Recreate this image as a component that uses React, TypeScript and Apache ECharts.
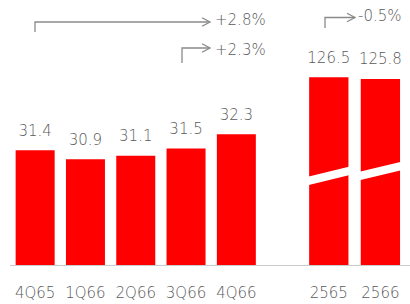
import React, { useEffect, useRef } from 'react';
import * as echarts from 'echarts';

const quarters = ['4Q65', '1Q66', '2Q66', '3Q66', '4Q66'];
const quarterValues = [31.4, 30.9, 31.1, 31.5, 32.3];
const years = ['2565', '2566'];
const yearValues = [126.5, 125.8];
const changeLabels = ['+2.8%', '+2.3%', '-0.5%'];

const FONT = 'DejaVu Sans';
const FW = 200;
const FS = 15;
const TEXT = '#5a5a5a';
const RED = '#ff0000';
const ARROW = '#8a8a8a';
// where the axis break band sits on each annual bar (value units)
const breakAt = [86.3, 88.3];

export default function App() {
  const ref = useRef<HTMLDivElement>(null);
  useEffect(() => {
    const chart = echarts.init(ref.current!, null, { renderer: 'svg' });
    const valueLabel = {
      show: true,
      position: 'top',
      distance: 12,
      color: TEXT,
      fontSize: FS,
      fontFamily: FONT,
      fontWeight: FW,
    };
    const catLabel = {
      color: TEXT,
      fontSize: FS,
      fontFamily: FONT,
      fontWeight: FW,
      margin: 20,
      interval: 0,
    };
    const arrow = (pts: number[][]) => ({
      type: 'polyline',
      shape: { points: pts },
      style: { stroke: ARROW, lineWidth: 1.3, fill: 'none' },
      silent: true,
    });
    const head = (x: number, y: number) =>
      arrow([
        [x - 8, y - 4.3],
        [x, y],
        [x - 8, y + 4.3],
      ]);
    const note = (x: number, y: number, t: string) => ({
      type: 'text',
      x,
      y,
      style: {
        text: t,
        fill: TEXT,
        fontSize: FS,
        fontFamily: FONT,
        fontWeight: FW,
        verticalAlign: 'middle',
        align: 'left',
      },
      silent: true,
    });
    chart.setOption({
      animation: false,
      grid: [
        { left: 10, width: 251.5, top: 50, height: 215 },
        { left: 303, width: 103.2, top: 44.1, height: 220.9 },
      ],
      xAxis: [
        {
          type: 'category',
          gridIndex: 0,
          data: quarters,
          axisLine: { show: false },
          axisTick: { show: false },
          axisLabel: catLabel,
        },
        {
          type: 'category',
          gridIndex: 1,
          data: years,
          axisLine: { show: false },
          axisTick: { show: false },
          axisLabel: catLabel,
        },
      ],
      yAxis: [
        { type: 'value', gridIndex: 0, min: 25, max: 37, show: false },
        { type: 'value', gridIndex: 1, min: 50, max: 140, show: false },
      ],
      series: [
        {
          type: 'bar',
          xAxisIndex: 0,
          yAxisIndex: 0,
          data: quarterValues,
          barWidth: 39,
          itemStyle: { color: RED },
          label: valueLabel,
        },
        {
          type: 'bar',
          xAxisIndex: 1,
          yAxisIndex: 1,
          data: yearValues,
          barWidth: 39.3,
          itemStyle: { color: RED },
          label: valueLabel,
        },
        {
          type: 'custom',
          xAxisIndex: 1,
          yAxisIndex: 1,
          z: 5,
          silent: true,
          data: years.map((_, i) => [i, breakAt[i]]),
          renderItem: (params: any, api: any) => {
            const c = api.coord([api.value(0), api.value(1)]);
            const hw = 22;
            const k = -0.24;
            const th = 8.5;
            const xl = c[0] - hw;
            const xr = c[0] + hw;
            const yl = c[1] - th / 2 - k * hw;
            const yr = c[1] - th / 2 + k * hw;
            return {
              type: 'polygon',
              shape: {
                points: [
                  [xl, yl],
                  [xr, yr],
                  [xr, yr + th],
                  [xl, yl + th],
                ],
              },
              style: { fill: '#ffffff' },
            };
          },
        },
      ],
      graphic: [
        {
          type: 'line',
          shape: { x1: 10, y1: 265.5, x2: 410, y2: 265.5 },
          style: { stroke: '#cccccc', lineWidth: 1 },
          silent: true,
        },
        arrow([
          [35, 32],
          [35, 22],
          [210, 22],
        ]),
        head(210, 22),
        note(215, 20, changeLabels[0]),
        arrow([
          [182, 63],
          [182, 48],
          [210, 48],
        ]),
        head(210, 48),
        note(215, 50, changeLabels[1]),
        arrow([
          [325, 28],
          [325, 17.5],
          [355, 17.5],
        ]),
        head(355, 17.5),
        note(358, 16, changeLabels[2]),
      ],
    });
    return () => chart.dispose();
  }, []);
  return (
    <div
      ref={ref}
      style={{ position: 'absolute', left: 0, top: 0, width: 410, height: 304 }}
    />
  );
}
